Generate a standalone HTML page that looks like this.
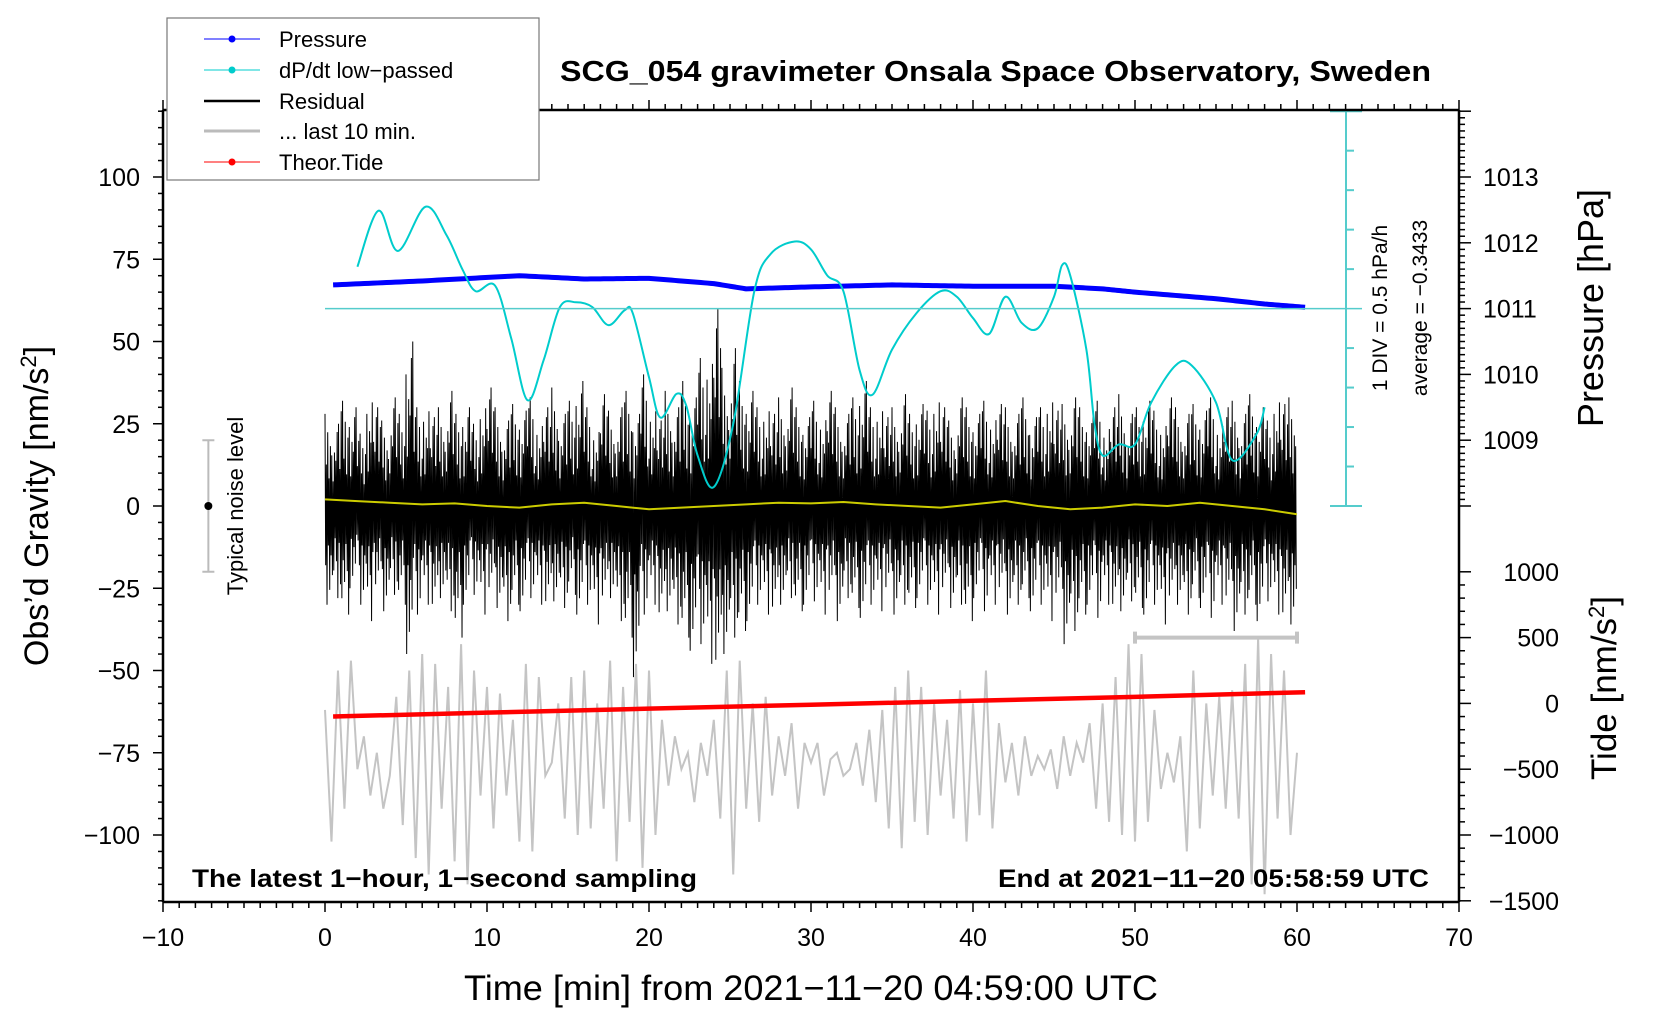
<!DOCTYPE html>
<html><head><meta charset="utf-8"><style>
html,body{margin:0;padding:0;background:#fff;}
svg{display:block;font-family:"Liberation Sans",sans-serif;}
</style></head><body>
<svg id="chart" width="1660" height="1020" viewBox="0 0 1660 1020" xmlns="http://www.w3.org/2000/svg">
<rect width="1660" height="1020" fill="#fff"/>
<g id="marks"></g>
<g id="axes"></g>
<line x1="163" y1="110" x2="163" y2="902" stroke="#000" stroke-width="2.5"/>
<line x1="1459" y1="110" x2="1459" y2="902" stroke="#000" stroke-width="2.5"/>
<line x1="163" y1="110" x2="1459" y2="110" stroke="#000" stroke-width="2.5"/>
<line x1="163" y1="902" x2="1459" y2="902" stroke="#000" stroke-width="2.5"/>
<text x="560" y="81" textLength="871" lengthAdjust="spacingAndGlyphs" font-size="29" font-weight="bold">SCG_054 gravimeter Onsala Space Observatory, Sweden</text>
<text x="192" y="887" textLength="505" lengthAdjust="spacingAndGlyphs" font-size="25" font-weight="bold">The latest 1−hour, 1−second sampling</text>
<text x="998" y="887" textLength="431" lengthAdjust="spacingAndGlyphs" font-size="25" font-weight="bold">End at 2021−11−20 05:58:59 UTC</text>
<text x="464" y="1000" textLength="694" lengthAdjust="spacingAndGlyphs" font-size="35">Time [min] from 2021−11−20 04:59:00 UTC</text>
<text transform="translate(48,506) rotate(-90)" text-anchor="middle" font-size="34">Obs’d Gravity [nm/s<tspan baseline-shift="super" font-size="22">2</tspan>]</text>
<text transform="translate(1603,308) rotate(-90)" text-anchor="middle" font-size="36">Pressure [hPa]</text>
<text transform="translate(1616,688) rotate(-90)" text-anchor="middle" font-size="35">Tide [nm/s<tspan baseline-shift="super" font-size="22">2</tspan>]</text>
<text transform="translate(243,506) rotate(-90)" text-anchor="middle" font-size="22">Typical noise level</text>
<text transform="translate(1387,308) rotate(-90)" text-anchor="middle" font-size="21">1 DIV = 0.5 hPa/h</text>
<text transform="translate(1427,308) rotate(-90)" text-anchor="middle" font-size="21">average = −0.3433</text>
<g>
<rect x="167" y="18" width="372" height="162" fill="#fff" stroke="#777" stroke-width="1.2"/>
<g><line x1="204" y1="39" x2="260" y2="39" stroke="#00f" stroke-width="1"/><circle cx="232" cy="39" r="3.5" fill="#00f"/><text x="279" y="47" font-size="22">Pressure</text></g>
<g><line x1="204" y1="70" x2="260" y2="70" stroke="#0cc" stroke-width="1"/><circle cx="232" cy="70" r="3.5" fill="#0cc"/><text x="279" y="78" font-size="22">dP/dt low−passed</text></g>
<g><line x1="204" y1="101" x2="260" y2="101" stroke="#000" stroke-width="2.5"/><text x="279" y="109" font-size="22">Residual</text></g>
<g><line x1="204" y1="131" x2="260" y2="131" stroke="#bbb" stroke-width="3"/><text x="279" y="139" font-size="22">... last 10 min.</text></g>
<g><line x1="204" y1="162" x2="260" y2="162" stroke="#f00" stroke-width="1"/><circle cx="232" cy="162" r="3.5" fill="#f00"/><text x="279" y="170" font-size="22">Theor.Tide</text></g>
</g>
</svg>
<script>
const gravTicks=[-100,-75,-50,-25,0,25,50,75,100];
const timeTicks=[-10,0,10,20,30,40,50,60,70];
const pressTicks=[1009,1010,1011,1012,1013];
const tideTicks=[-1500,-1000,-500,0,500,1000];
const pressTime=[0.5,6,12,16,20,24,26,30,35,40,45,48,50,55,58,60.5];
const pressVal=[1011.36,1011.42,1011.5,1011.45,1011.46,1011.38,1011.3,1011.33,1011.36,1011.34,1011.34,1011.3,1011.25,1011.15,1011.07,1011.02];
const dpTime=[2,3.3,4.5,6.2,7.5,8.5,9.3,10.5,11.5,12.5,13.5,14.5,15.5,16.5,17.5,18.5,19,20,20.7,21.7,22.3,23,24,25.2,26.5,27.5,29,30,31,32,33,33.8,35,36.5,38,39,40,41,42,43,44,45,45.5,46,47,47.5,48,49,50,51,52.5,53.5,55,56,57.5,58];
const dpVal=[0.53,1.24,0.73,1.29,0.93,0.49,0.22,0.29,-0.38,-1.16,-0.65,0.02,0.08,0.02,-0.21,-0.02,-0.06,-0.87,-1.38,-1.08,-1.23,-1.86,-2.26,-1.46,0.22,0.69,0.85,0.75,0.42,0.22,-0.78,-1.09,-0.52,-0.06,0.22,0.15,-0.12,-0.32,0.15,-0.18,-0.25,0.15,0.55,0.42,-0.52,-1.46,-1.86,-1.72,-1.72,-1.19,-0.72,-0.72,-1.19,-1.92,-1.59,-1.25];
const resHi=[28,25,32,30,22,35,30,26,33,28,50,30,32,27,30,35,28,30,25,33,36,30,26,31,29,33,27,30,36,28,32,38,30,25,34,29,30,35,28,40,32,26,35,30,38,33,45,48,60,42,48,38,35,30,32,28,33,36,30,27,32,29,35,30,28,33,38,30,32,27,30,34,28,31,29,35,30,26,33,30,28,32,29,31,30,28,33,27,30,35,29,31,33,30,28,32,26,30,34,28,30,32,29,27,33,30,28,31,29,33,27,30,32,28,34,30,26,35,31,33];
const resLo=[-30,-28,-33,-25,-30,-35,-28,-32,-27,-30,-45,-33,-30,-35,-28,-32,-40,-30,-27,-33,-29,-31,-35,-30,-32,-28,-30,-34,-29,-31,-27,-33,-30,-36,-32,-28,-35,-40,-52,-33,-30,-38,-32,-36,-40,-44,-42,-48,-55,-45,-40,-38,-35,-30,-33,-36,-30,-28,-32,-30,-29,-33,-30,-35,-28,-31,-34,-30,-32,-29,-33,-30,-31,-28,-30,-33,-29,-31,-30,-35,-28,-32,-30,-29,-33,-30,-28,-32,-30,-35,-31,-42,-38,-33,-30,-34,-30,-35,-32,-29,-31,-33,-30,-36,-32,-30,-33,-28,-31,-34,-30,-32,-38,-33,-30,-35,-29,-33,-38,-36];
const smoothVal=[2,1.5,1,0.5,0.8,0,-0.5,0.5,1,0,-1,-0.5,0,0.5,1,0.8,1.2,0.5,0,-0.5,0.5,1.5,0,-1,-0.5,0.5,0,1,0,-1,-2.5];
const last10Val=[-62,-102,-50,-92,-47,-80,-70,-88,-75,-92,-82,-58,-97,-50,-107,-45,-112,-48,-92,-55,-108,-42,-115,-50,-88,
-55,-98,-57,-88,-65,-102,-48,-105,-52,-82,-78,-60,-95,-52,-100,-50,-98,-60,-92,-47,-108,-55,-96,-48,-110,
-50,-100,-65,-85,-70,-80,-75,-90,-72,-82,-65,-95,-50,-112,-47,-92,-60,-96,-58,-88,-70,-82,-66,-92,-72,
-78,-72,-88,-77,-75,-82,-80,-72,-85,-68,-90,-62,-98,-55,-104,-50,-96,-55,-100,-60,-88,-65,-95,-56,-102,
-60,-94,-50,-98,-66,-84,-72,-88,-70,-82,-76,-80,-74,-86,-70,-82,-72,-78,-66,-92,-60,-96,-52,-100,-42,
-102,-45,-96,-62,-86,-75,-84,-70,-105,-50,-98,-60,-88,-58,-92,-56,-95,-48,-115,-40,-118,-45,-95,-50,-100,-75];
const tideTime=[0.5,10,20,30,40,50,60.5];
const tideVal=[-100,-70,-40,-10,20,50,85];

const NS='http://www.w3.org/2000/svg';
const X=t=>325+16.2*t;
const Y=v=>506-3.29*v;
const P=h=>Y(60+(h-1011)*20);
const T=n=>Y(-60+n/25);
const D=r=>Y(60+r*24);
const marks=document.getElementById('marks');
const axes=document.getElementById('axes');
function mk(tag,attrs,parent){const e=document.createElementNS(NS,tag);for(const k in attrs)e.setAttribute(k,attrs[k]);parent.appendChild(e);return e;}
function line(x1,y1,x2,y2,parent,stroke,w){return mk('line',{x1:x1,y1:y1,x2:x2,y2:y2,stroke:stroke||'#000','stroke-width':w||1.5},parent);}

// residual
let pts=[];
const fh=[1,0.45,0.8,0.3,0.65,0.55,0.9];
const fl=[0.6,1,0.4,0.85,0.5,0.7,0.35];
const NSUB=6;
resHi.forEach((h,i)=>{const t0=i*0.5;for(let k=0;k<NSUB;k++){const a=fh[(i*3+k)%7],b=fl[(i*5+k)%7];pts.push(X(t0+k*0.5/NSUB)+','+Y(h*a));pts.push(X(t0+(k+0.5)*0.5/NSUB)+','+Y(resLo[i]*b));}});
let e=mk('polyline',{points:pts.join(' '),fill:'none',stroke:'#000','stroke-width':1},marks);


// yellow smooth
e=mk('polyline',{points:smoothVal.map((v,i)=>X(i*2)+','+Y(v)).join(' '),fill:'none',stroke:'#cc0','stroke-width':2},marks);


// last 10 min
e=mk('polyline',{points:last10Val.map((v,i)=>X(i*0.4)+','+Y(v)).join(' '),fill:'none',stroke:'#c4c4c4','stroke-width':2},marks);


// tide
e=mk('polyline',{points:tideTime.map((t,i)=>X(t)+','+T(tideVal[i])).join(' '),fill:'none',stroke:'#f00','stroke-width':4.5},marks);


// cyan axis
const cx=1346;
line(cx,Y(0),cx,Y(120),axes,'#5cc','2');
for(let k=0;k<=10;k++){const y=Y(k*12);const end=(k==0||k==10);if(k==5)continue;line(cx-(end?16:0),y,cx+(end?16:8),y,axes,'#5cc',2);}
e=line(X(0),D(0),cx+16,D(0),axes,'#5cc',1.5);


// pressure
const pg=mk('g',{},marks);


let pp=[];
for(let i=0;i<pressTime.length-1;i++){for(let k=0;k<20;k++){const f=k/20;pp.push([pressTime[i]+f*(pressTime[i+1]-pressTime[i]),pressVal[i]+f*(pressVal[i+1]-pressVal[i])]);}}
pp.push([pressTime[pressTime.length-1],pressVal[pressVal.length-1]]);
mk('polyline',{points:pp.map(p=>X(p[0])+','+P(p[1])).join(' '),fill:'none',stroke:'#00f','stroke-width':5,'stroke-linejoin':'round'},pg);
// dpdt smooth curve
function smoothPath(xs,ys){let d='M'+xs[0]+','+ys[0];for(let i=0;i<xs.length-1;i++){const x0=xs[Math.max(i-1,0)],y0=ys[Math.max(i-1,0)],x1=xs[i],y1=ys[i],x2=xs[i+1],y2=ys[i+1],x3=xs[Math.min(i+2,xs.length-1)],y3=ys[Math.min(i+2,xs.length-1)];d+=' C'+(x1+(x2-x0)/6)+','+(y1+(y2-y0)/6)+' '+(x2-(x3-x1)/6)+','+(y2-(y3-y1)/6)+' '+x2+','+y2;}return d;}
e=mk('path',{d:smoothPath(dpTime.map(X),dpVal.map(D)),fill:'none',stroke:'#0cc','stroke-width':2},marks);


// last 10 min bar
e=mk('path',{d:`M${X(50)},${Y(-40)}H${X(60)}M${X(50)},${Y(-40)-6}V${Y(-40)+6}M${X(60)},${Y(-40)-6}V${Y(-40)+6}`,stroke:'#c4c4c4','stroke-width':4,fill:'none'},marks);


// noise level
const nx=X(-7.2);
e=mk('path',{d:`M${nx},${Y(20)}V${Y(-20)}M${nx-6},${Y(20)}H${nx+6}M${nx-6},${Y(-20)}H${nx+6}`,stroke:'#bbb','stroke-width':2,fill:'none'},marks);


mk('circle',{cx:nx,cy:Y(0),r:4,fill:'#000'},marks);
// left ticks
for(let v=-120;v<=120;v+=5){const maj=v%25==0;line(163,Y(v),163-(maj?10:5),Y(v),axes);}
gravTicks.forEach(v=>{const t=mk('text',{x:140,y:Y(v)+9,'text-anchor':'end','font-size':25},axes);t.textContent=String(v).replace('-','−');});
// bottom/top ticks
for(let m=-10;m<=70;m++){const maj=m%10==0;line(X(m),902,X(m),902+(maj?10:6),axes);line(X(m),110,X(m),110-(maj?10:6),axes);}
timeTicks.forEach(m=>{const t=mk('text',{x:X(m),y:946,'text-anchor':'middle','font-size':25},axes);t.textContent=String(m).replace('-','−');});
// right ticks: pressure
for(let k=0;k<=60;k++){const h=1008+k*0.1;const y=P(h);if(y<110)break;const maj=k%10==0;line(1459,y,1459+(maj?12:6),y,axes);}
pressTicks.forEach(h=>{const t=mk('text',{x:1483,y:P(h)+9,'font-size':25},axes);t.textContent=h;});
// tide ticks
for(let n=-1500;n<=1000;n+=100){const maj=n%500==0;line(1459,T(n),1459+(maj?12:6),T(n),axes);}
tideTicks.forEach(n=>{const t=mk('text',{x:1559,y:T(n)+9,'text-anchor':'end','font-size':25},axes);t.textContent=String(n).replace('-','−');});
</script>
</body></html>
